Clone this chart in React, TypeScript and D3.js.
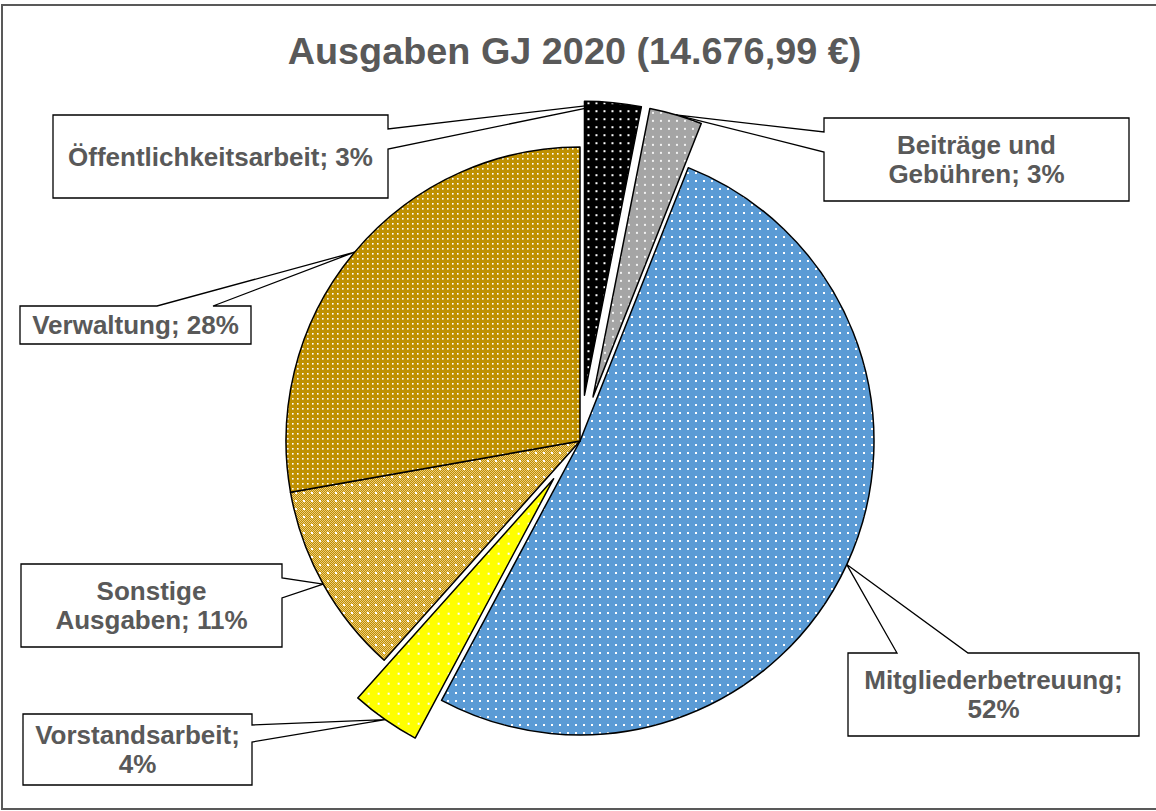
import React from "react";
import * as d3 from "d3";

// ---- data ----
const categories = [
  "Öffentlichkeitsarbeit",
  "Beiträge und Gebühren",
  "Mitgliederbetreuung",
  "Vorstandsarbeit",
  "Sonstige Ausgaben",
  "Verwaltung",
];
const amounts = [455, 426, 7603, 558, 1556, 4078.99];
const exploded = [true, true, false, true, false, false];
// label lines; "{p}" is replaced by the computed percentage
const labelLines = [
  ["Öffentlichkeitsarbeit; {p}"],
  ["Beiträge und", "Gebühren; {p}"],
  ["Mitgliederbetreuung;", "{p}"],
  ["Vorstandsarbeit;", "{p}"],
  ["Sonstige", "Ausgaben; {p}"],
  ["Verwaltung; {p}"],
];
const title = "Ausgaben GJ 2020 (14.676,99 €)";

// ---- layout / style ----
const W = 1156;
const H = 811;
const CX = 580;
const CY = 441;
const R = 294;
const EXPLODE = 46;
const TEXT = "#595959";
const FONT = "'Liberation Sans', Arial, sans-serif";
const LABEL_FS = 26;
const LINE_H = 29;

const fills = ["url(#pBlack)", "url(#pGray)", "url(#pBlue)", "url(#pYellow)", "url(#pTan)", "url(#pGold)"];

type Box = { x: number; y: number; w: number; h: number; side: "left" | "right" | "top"; n1: number; n2: number };
const boxes: Box[] = [
  { x: 53, y: 115, w: 335, h: 83, side: "right", n1: 129, n2: 149 },
  { x: 824, y: 118, w: 305, h: 83, side: "left", n1: 132, n2: 152 },
  { x: 848, y: 653, w: 291, h: 83, side: "top", n1: 897, n2: 968 },
  { x: 23, y: 714, w: 229, h: 71, side: "right", n1: 725, n2: 742 },
  { x: 21, y: 564, w: 261, h: 83, side: "right", n1: 578, n2: 598 },
  { x: 20, y: 306, w: 231, h: 38, side: "top", n1: 157, n2: 213 },
];

function calloutPath(b: Box, tx: number, ty: number) {
  const { x, y, w, h } = b;
  if (b.side === "right")
    return `M${x},${y}L${x + w},${y}L${x + w},${b.n1}L${tx},${ty}L${x + w},${b.n2}L${x + w},${y + h}L${x},${y + h}Z`;
  if (b.side === "left")
    return `M${x},${y}L${x + w},${y}L${x + w},${y + h}L${x},${y + h}L${x},${b.n2}L${tx},${ty}L${x},${b.n1}Z`;
  return `M${x},${y}L${b.n1},${y}L${tx},${ty}L${b.n2},${y}L${x + w},${y}L${x + w},${y + h}L${x},${y + h}Z`;
}

export default function App() {
  const total = d3.sum(amounts);
  const pie = d3.pie<number>().sort(null).value((d) => d);
  const arcs = pie(amounts);
  const arcGen = d3.arc<d3.PieArcDatum<number>>().innerRadius(0).outerRadius(R);

  const slices = arcs.map((a, i) => {
    const mid = (a.startAngle + a.endAngle) / 2;
    const off = exploded[i] ? EXPLODE : 0;
    const ox = CX + off * Math.sin(mid);
    const oy = CY - off * Math.cos(mid);
    const tx = ox + R * Math.sin(mid);
    const ty = oy - R * Math.cos(mid);
    const pct = Math.round((amounts[i] / total) * 100) + "%";
    return { a, i, ox, oy, tx, ty, pct };
  });

  return (
    <svg
      width={W}
      height={H}
      style={{ position: "absolute", left: 0, top: 0, background: "#fff" }}
      fontFamily={FONT}
    >
      <defs>
        <pattern id="pBlack" width={8} height={8} patternUnits="userSpaceOnUse">
          <rect width={8} height={8} fill="#000" />
          <rect x={3} y={3} width={2} height={2} fill="#fff" />
        </pattern>
        <pattern id="pGray" width={8} height={8} patternUnits="userSpaceOnUse">
          <rect width={8} height={8} fill="#A5A5A5" />
          <rect x={3} y={3} width={2} height={2} fill="#f2f2f2" />
        </pattern>
        <pattern id="pBlue" width={8} height={8} patternUnits="userSpaceOnUse">
          <rect width={8} height={8} fill="#5B9BD5" />
          <rect x={3} y={3} width={2} height={2} fill="#fff" />
        </pattern>
        <pattern id="pYellow" width={10} height={10} patternUnits="userSpaceOnUse">
          <rect width={10} height={10} fill="#FFFF00" />
          <rect x={4} y={4} width={2} height={2} fill="#fff" />
        </pattern>
        <pattern id="pGold" width={5} height={5} patternUnits="userSpaceOnUse">
          <rect width={5} height={5} fill="#BF9000" />
          <rect x={2} y={2} width={1.6} height={1.6} fill="#fff" />
        </pattern>
        <pattern id="pTan" width={8} height={8} patternUnits="userSpaceOnUse">
          <rect width={8} height={8} fill="#EDCB7C" />
          {[0, 2, 4, 6].map((yy) =>
            [0, 2, 4, 6].map((xx) => (
              <g key={`${xx}-${yy}`}>
                <rect x={xx} y={yy} width={1} height={1} fill="#BF9000" />
                <rect x={xx + 1} y={yy + 1} width={1} height={1} fill="#BF9000" />
              </g>
            ))
          )}
          <rect x={3} y={3} width={2} height={2} fill="#fff" />
        </pattern>
      </defs>

      <rect x={2} y={5} width={1170} height={804} fill="#fff" stroke={TEXT} strokeWidth={2} />

      <text x={574.5} y={64} textAnchor="middle" fontSize={37.8} fontWeight="bold" fill={TEXT}>
        {title}
      </text>

      {slices.map(({ i, tx, ty }) => (
        <path
          key={"c" + i}
          d={calloutPath(boxes[i], tx, ty)}
          fill="#fff"
          stroke="#000"
          strokeWidth={1.3}
          strokeLinejoin="miter"
        />
      ))}

      {slices.map(({ a, i, ox, oy }) => (
        <path
          key={"s" + i}
          d={arcGen(a) || ""}
          transform={`translate(${ox},${oy})`}
          fill={fills[i]}
          stroke="#000"
          strokeWidth={1.5}
          strokeLinejoin="round"
        >
          <title>{categories[i]}</title>
        </path>
      ))}

      {slices.map(({ i, pct }) => {
        const b = boxes[i];
        const lines = labelLines[i].map((l) => l.replace("{p}", pct));
        const cy = b.y + b.h / 2;
        return (
          <text
            key={"t" + i}
            textAnchor="middle"
            fontSize={LABEL_FS}
            fontWeight="bold"
            fill={TEXT}
          >
            {lines.map((l, k) => (
              <tspan
                key={k}
                x={b.x + b.w / 2}
                y={cy + (k - (lines.length - 1) / 2) * LINE_H + LABEL_FS * 0.35}
              >
                {l}
              </tspan>
            ))}
          </text>
        );
      })}
    </svg>
  );
}
